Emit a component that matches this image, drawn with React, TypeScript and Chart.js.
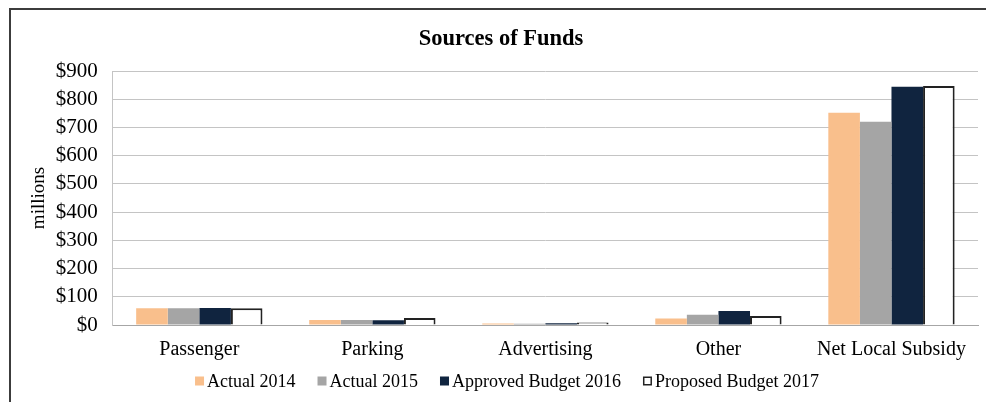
import React, { useEffect, useRef } from "react";
import { Chart, registerables } from "chart.js";

Chart.register(...registerables);

const categories = ["Passenger", "Parking", "Advertising", "Other", "Net Local Subsidy"];
const actual2014 = [59, 18, 5, 23, 752];
const actual2015 = [59, 18, 4, 36, 720];
const approved2016 = [60, 17, 6, 50, 844];
const proposed2017 = [59, 25, 9, 32, 847];
const seriesNames = ["Actual 2014", "Actual 2015", "Approved Budget 2016", "Proposed Budget 2017"];
const yTicks = [0, 100, 200, 300, 400, 500, 600, 700, 800, 900];

const SERIF = "'Liberation Serif', 'Times New Roman', serif";

const frame = {
  id: "frame",
  beforeDraw(chart: any) {
    const ctx = chart.ctx;
    ctx.save();
    ctx.fillStyle = "#ffffff";
    ctx.fillRect(0, 0, chart.width, chart.height);
    ctx.strokeStyle = "#3c3c3c";
    ctx.lineWidth = 2;
    ctx.strokeRect(10, 9, 1200, 800);
    ctx.restore();
  },
};

const customLegend = {
  id: "customLegend",
  afterDraw(chart: any) {
    const ctx = chart.ctx;
    const box = 9;
    const gap = 3;
    const itemGap = 22;
    ctx.save();
    ctx.font = `18px ${SERIF}`;
    ctx.textBaseline = "middle";
    ctx.textAlign = "left";
    const items = chart.data.datasets.map((ds: any) => ({
      ds,
      w: box + gap + ctx.measureText(ds.label).width,
    }));
    const total = items.reduce((s: number, it: any) => s + it.w, 0) + itemGap * (items.length - 1);
    const cy = chart.height - 21;
    let x = (chart.width + 28) / 2 - total / 2;
    items.forEach((it: any) => {
      const ds = it.ds;
      ctx.fillStyle = ds.backgroundColor;
      ctx.fillRect(x, cy - box / 2, box, box);
      if (ds.borderWidth) {
        ctx.strokeStyle = ds.borderColor;
        ctx.lineWidth = 1.5;
        ctx.strokeRect(x + 0.75, cy - box / 2 + 0.75, box - 1.5, box - 1.5);
      }
      ctx.fillStyle = "#000";
      ctx.fillText(ds.label, x + box + gap, cy + 1);
      x += it.w + itemGap;
    });
    ctx.restore();
  },
};

export default function App() {
  const ref = useRef<HTMLCanvasElement | null>(null);
  useEffect(() => {
    if (!ref.current) return;
    const chart = new Chart(ref.current, {
      type: "bar",
      data: {
        labels: categories,
        datasets: [
          { label: seriesNames[0], data: actual2014, backgroundColor: "#F9BF8C", borderWidth: 0 },
          { label: seriesNames[1], data: actual2015, backgroundColor: "#A5A5A5", borderWidth: 0 },
          { label: seriesNames[2], data: approved2016, backgroundColor: "#10243F", borderWidth: 0 },
          {
            label: seriesNames[3],
            data: proposed2017,
            backgroundColor: "#FFFFFF",
            borderColor: "#222222",
            borderWidth: 2,
          },
        ],
      },
      options: {
        responsive: false,
        animation: false,
        devicePixelRatio: 1,
        datasets: { bar: { barPercentage: 1, categoryPercentage: 0.73 } },
        layout: { padding: { left: 24, right: 8, top: 0, bottom: 41 } },
        plugins: {
          title: {
            display: true,
            text: "Sources of Funds",
            color: "#000",
            font: { family: SERIF, size: 22.5, weight: "bold" },
            padding: { top: 26, bottom: 18 },
          },
          legend: { display: false },
          tooltip: { enabled: false },
        },
        scales: {
          x: {
            grid: { display: false, drawTicks: false },
            border: { display: true, color: "#A6A6A6", width: 1 },
            ticks: { color: "#000", font: { family: SERIF, size: 20 }, padding: 13 },
            afterFit: (axis: any) => {
              axis.height = 36;
            },
          },
          y: {
            min: 0,
            max: 900,
            afterBuildTicks: (axis: any) => {
              axis.ticks = yTicks.map((v) => ({ value: v }));
            },
            grid: { color: "#C4C4C4", lineWidth: 1, drawTicks: false },
            border: { display: true, color: "#C4C4C4", width: 1 },
            ticks: {
              color: "#000",
              autoSkip: false,
              font: { family: SERIF, size: 21 },
              padding: 15,
              callback: (v: any) => "$" + v,
            },
            title: {
              display: true,
              text: "millions",
              color: "#000",
              font: { family: SERIF, size: 19 },
              padding: { top: 4, bottom: -10 },
            },
          },
        },
      },
      plugins: [frame, customLegend],
    } as any);
    return () => chart.destroy();
  }, []);
  return (
    <canvas
      ref={ref}
      width={986}
      height={402}
      style={{ position: "fixed", left: 0, top: 0, display: "block" }}
    />
  );
}
